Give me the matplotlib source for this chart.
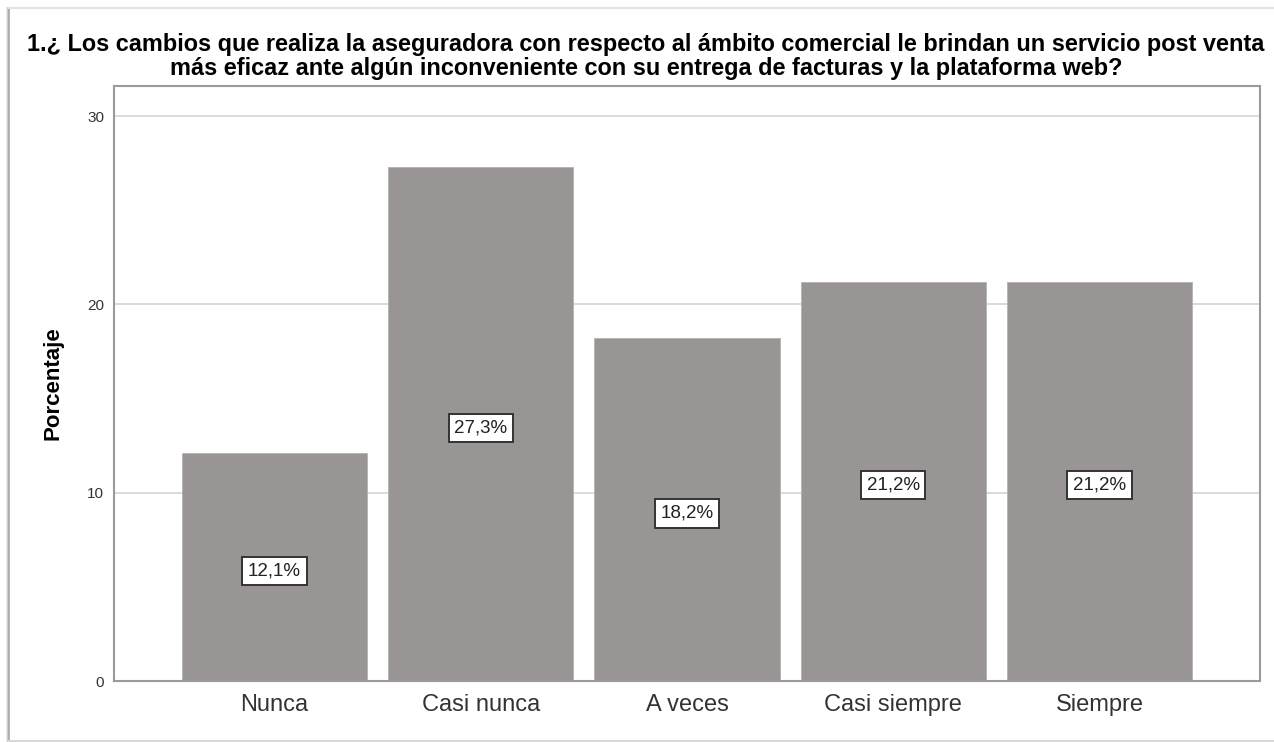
import matplotlib.pyplot as plt
from matplotlib.lines import Line2D

# Datos de la pregunta 1
categorias = ['Nunca', 'Casi nunca', 'A veces', 'Casi siempre', 'Siempre']
porcentajes = [12.1, 27.3, 18.2, 21.2, 21.2]
etiquetas = ['12,1%', '27,3%', '18,2%', '21,2%', '21,2%']
titulo = ('1.¿ Los cambios que realiza la aseguradora con respecto al ámbito comercial le brindan un servicio post venta\n'
          'más eficaz ante algún inconveniente con su entrega de facturas y la plataforma web?')

plt.rcParams['font.family'] = ['Liberation Sans', 'DejaVu Sans']

fig = plt.figure(figsize=(12.74, 7.42), dpi=100)
ax = fig.add_axes([0.0895, 0.0822, 0.8995, 0.8018])

# Marco exterior con sombra a la izquierda
for dx, col in [(0.0055, '#e6e6e6'), (0.0063, '#c8c8c8'), (0.0071, '#a8a8a8')]:
    fig.add_artist(Line2D([dx, dx], [0.0013, 0.989], color=col, lw=1.2, transform=fig.transFigure))
fig.add_artist(Line2D([0.0071, 1.0], [0.989, 0.989], color='#e2e2e2', lw=1.5, transform=fig.transFigure))
fig.add_artist(Line2D([0.0071, 1.0], [0.0013, 0.0013], color='#d8d8d8', lw=1.5, transform=fig.transFigure))

x = range(len(categorias))
ax.set_axisbelow(True)
ax.yaxis.grid(True, color='#d4d4d4', lw=1.2)
barras = ax.bar(x, porcentajes, width=0.897, color='#989594', edgecolor='#b5b3b2', lw=0.6)

for xi, v, txt in zip(x, porcentajes, etiquetas):
    ax.text(xi, v / 2 - 0.2, txt, ha='center', va='center', fontsize=13.5, color='#222222',
            bbox=dict(boxstyle='square,pad=0.3', fc='white', ec='#333333', lw=1.4))

ax.set_xlim(-0.778, 4.778)
ax.set_ylim(0, 31.6)
ax.set_yticks([0, 10, 20, 30])
ax.set_xticks(list(x))
ax.set_xticklabels(categorias, fontsize=17, color='#333333')
ax.tick_params(axis='y', labelsize=11, colors='#333333', length=0, pad=7)
ax.tick_params(axis='x', length=0, pad=9)
for s in ax.spines.values():
    s.set_color('#9a9a9a')
    s.set_linewidth(1.5)

ax.set_ylabel('Porcentaje', fontsize=16, fontweight='bold')
ax.yaxis.set_label_coords(-0.0445, 0.5)
fig.text(0.507, 0.924, titulo, ha='center', va='center', fontsize=16.9, fontweight='bold',
         linespacing=1.05)

fig.savefig('out.png', dpi=100)
